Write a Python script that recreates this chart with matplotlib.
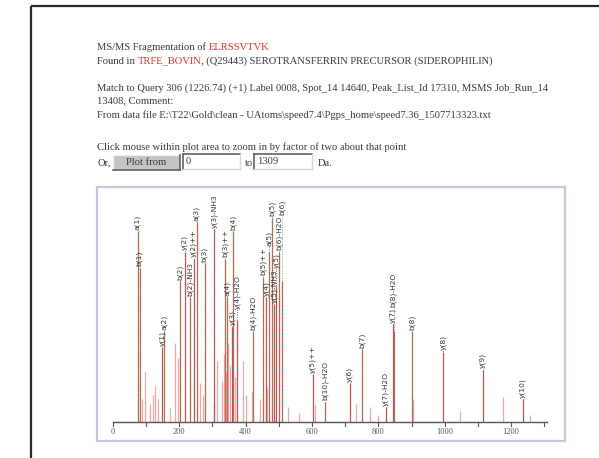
import matplotlib
matplotlib.use("Agg")
import matplotlib.pyplot as plt
from matplotlib.patches import Rectangle

# ---------------- spectrum data ----------------
# matched fragment ions
ion_labels = ["a(1)", "b(1)", "y(1)", "a(2)", "b(2)", "y(2)", "b(2)-NH3", "y(2)++",
              "a(3)", "b(3)", "y(3)-NH3", "b(3)++", "a(4)", "y(3)", "b(4)", "y(4)-H2O",
              "b(4)-H2O", "b(5)++", "y(4)", "a(5)", "b(5)", "y(5)-NH3", "y(5)", "b(6)-H2O",
              "b(6)", "y(5)++", "b(10)-H2O", "y(6)", "b(7)", "y(7)-H2O", "y(7)", "b(8)-H2O",
              "b(8)", "y(8)", "y(9)", "y(10)"]
ion_mz = [74, 80, 149, 155, 203, 216, 232, 244,
          252, 276, 306, 338, 345, 360, 362, 375,
          422, 452, 462, 470, 480, 486, 492, 500,
          510, 603, 639, 714, 751, 823, 844, 846,
          901, 995, 1115, 1236]
ion_int = [84, 68, 33, 40, 62, 75, 55, 72,
           88, 70, 85, 72, 55, 42, 84, 45,
           40, 64, 55, 75, 90, 52, 60, 75,
           62, 21, 9, 17, 32, 6.6, 43, 40,
           40, 31, 23, 10]
ion_series = ["b", "b", "y", "b", "b", "y", "b", "y",
              "b", "b", "y", "b", "b", "y", "b", "y",
              "b", "b", "y", "b", "b", "y", "y", "b",
              "b", "y", "b", "y", "b", "y", "y", "b",
              "b", "y", "y", "y"]

# unassigned peaks
other_mz = [88, 98, 112, 120, 128, 136, 172, 186, 196, 262, 270, 304, 314, 330, 335,
            341, 348, 353, 367, 392, 400, 419, 443, 464, 528, 560, 608, 733, 775, 800,
            904, 1046, 1176, 1257]
other_int = [10, 22, 8, 12, 16, 10, 6, 35, 28, 17, 12, 8, 27, 18, 30,
             22, 35, 25, 20, 27, 12, 13, 10, 15, 6.6, 4, 7.5, 8, 6.6, 3,
             10, 5, 11, 3]

tick_values = [0, 200, 400, 600, 800, 1000, 1200]
mz_low, mz_high = 0, 1309

# ---------------- page text ----------------
peptide = "ELRSSVTVK"
protein_id = "TRFE_BOVIN"
protein_desc = ", (Q29443) SEROTRANSFERRIN PRECURSOR (SIDEROPHILIN)"
query_line = "Match to Query 306 (1226.74) (+1) Label 0008, Spot_14 14640, Peak_List_Id 17310, MSMS Job_Run_14"
query_line2 = "13408, Comment:"
file_line = "From data file E:\\T22\\Gold\\clean - UAtoms\\speed7.4\\Pgps_home\\speed7.36_1507713323.txt"
zoom_hint = "Click mouse within plot area to zoom in by factor of two about that point"

W, H = 599, 458
fig = plt.figure(figsize=(W / 100, H / 100), dpi=100)
renderer = fig.canvas.get_renderer()

page = fig.add_axes([0, 0, 1, 1])
page.set_xlim(0, W)
page.set_ylim(H, 0)
page.axis("off")

# page frame
page.plot([31, W], [6, 6], color="#2a2a2a", lw=1.6, solid_capstyle="butt")
page.plot([31, 31], [6, H], color="#2a2a2a", lw=1.6, solid_capstyle="butt")

TXT = "#3a3a3a"
RED = "#e0302a"
FS = 7.6
SERIF = "Liberation Serif"


def runs(x, y, parts, size=FS):
    for s, c in parts:
        t = page.text(x, y, s, color=c, fontsize=size, family=SERIF,
                      ha="left", va="center")
        x += t.get_window_extent(renderer).width
    return x


runs(97, 47, [("MS/MS Fragmentation of ", TXT), (peptide, RED)])
runs(97, 61, [("Found in ", TXT), (protein_id, RED), (protein_desc, TXT)])
runs(97, 88, [(query_line, TXT)])
runs(97, 101, [(query_line2, TXT)])
runs(97, 115, [(file_line, TXT)])
runs(97, 147, [(zoom_hint, TXT)])

# form row
runs(98, 163, [("Or,", TXT)])
page.add_patch(Rectangle((113, 155), 67, 15, fc="#c4c4c4", ec="none"))
page.plot([113, 180], [155, 155], color="#f0f0f0", lw=1)
page.plot([113, 113], [155, 170], color="#f0f0f0", lw=1)
page.plot([113, 180], [170, 170], color="#606060", lw=1.2)
page.plot([180, 180], [155, 170], color="#606060", lw=1.2)
page.text(146.5, 162.5, "Plot from", fontsize=FS, family=SERIF, color=TXT,
          ha="center", va="center")
for x0, x1, val in [(183, 240, "0"), (254, 312, "1309")]:
    page.add_patch(Rectangle((x0, 154), x1 - x0, 15, fc="white", ec="none"))
    page.plot([x0, x1], [154, 154], color="#606060", lw=1.2)
    page.plot([x0, x0], [154, 169], color="#606060", lw=1.2)
    page.plot([x0, x1], [169, 169], color="#d8d8d8", lw=1)
    page.plot([x1, x1], [154, 169], color="#d8d8d8", lw=1)
    page.text(x0 + 3, 162, val, fontsize=FS, family=SERIF, color=TXT,
              ha="left", va="center")
runs(245, 163, [("to", TXT)])
runs(318, 163, [("Da.", TXT)])

# ---------------- spectrum ----------------
L, R, T, B = 97, 565, 187, 441
ax = fig.add_axes([L / W, 1 - B / H, (R - L) / W, (B - T) / H])
ax.set_xlim(-48.2, 1362.7)
ax.set_ylim(-8.37, 103.5)
ax.axis("off")
ax.add_patch(Rectangle((0, 0), 1, 1, transform=ax.transAxes, fill=False,
                       ec="#c3c8da", lw=1.6, clip_on=False))

px_x = (R - L) / (1362.7 + 48.2)
px_y = (B - T) / (103.5 + 8.37)

# unassigned peaks
ax.vlines(other_mz, 0, other_int, color="#efa8a8", lw=0.9, zorder=2)
# assigned peaks
ax.vlines(ion_mz, 0, ion_int, color="#d84a4a", lw=0.9, zorder=3)

# labels, stacked upward where they would collide
series_color = {"b": "#5fb35f", "y": "#707070"}
gap = 0.6
placed = []
order = sorted(range(len(ion_mz)), key=lambda i: ion_mz[i])
for i in order:
    mz, inten = ion_mz[i], ion_int[i]
    t = ax.text(mz, 0, ion_labels[i], rotation=90, ha="center", va="bottom",
                fontsize=5.4, color="#333333", zorder=5)
    bb = t.get_window_extent(renderer)
    h = bb.height / px_y
    w = bb.width / px_x
    base = inten + gap
    moved = True
    while moved:
        moved = False
        for m0, b0, b1, w0 in placed:
            if abs(mz - m0) < (w + w0) / 2 and base < b1 and base + h > b0:
                base = b1 + gap
                moved = True
    t.set_y(base)
    placed.append((mz, base, base + h, w))
    ax.vlines(mz, 0, base, color=series_color[ion_series[i]], lw=0.7,
              linestyles=(0, (1, 1.5)), zorder=4)

# m/z axis
ax.plot([mz_low, mz_high], [0, 0], color="#555555", lw=1, zorder=6)
for v in range(mz_low, mz_high + 1, 100):
    ax.plot([v, v], [0, -1.8], color="#555555", lw=0.8, zorder=6)
for v in tick_values:
    ax.text(v, -4.6, str(v), ha="center", va="center", fontsize=6,
            family=SERIF, color="#555555")

fig.savefig("out.png", dpi=100)
